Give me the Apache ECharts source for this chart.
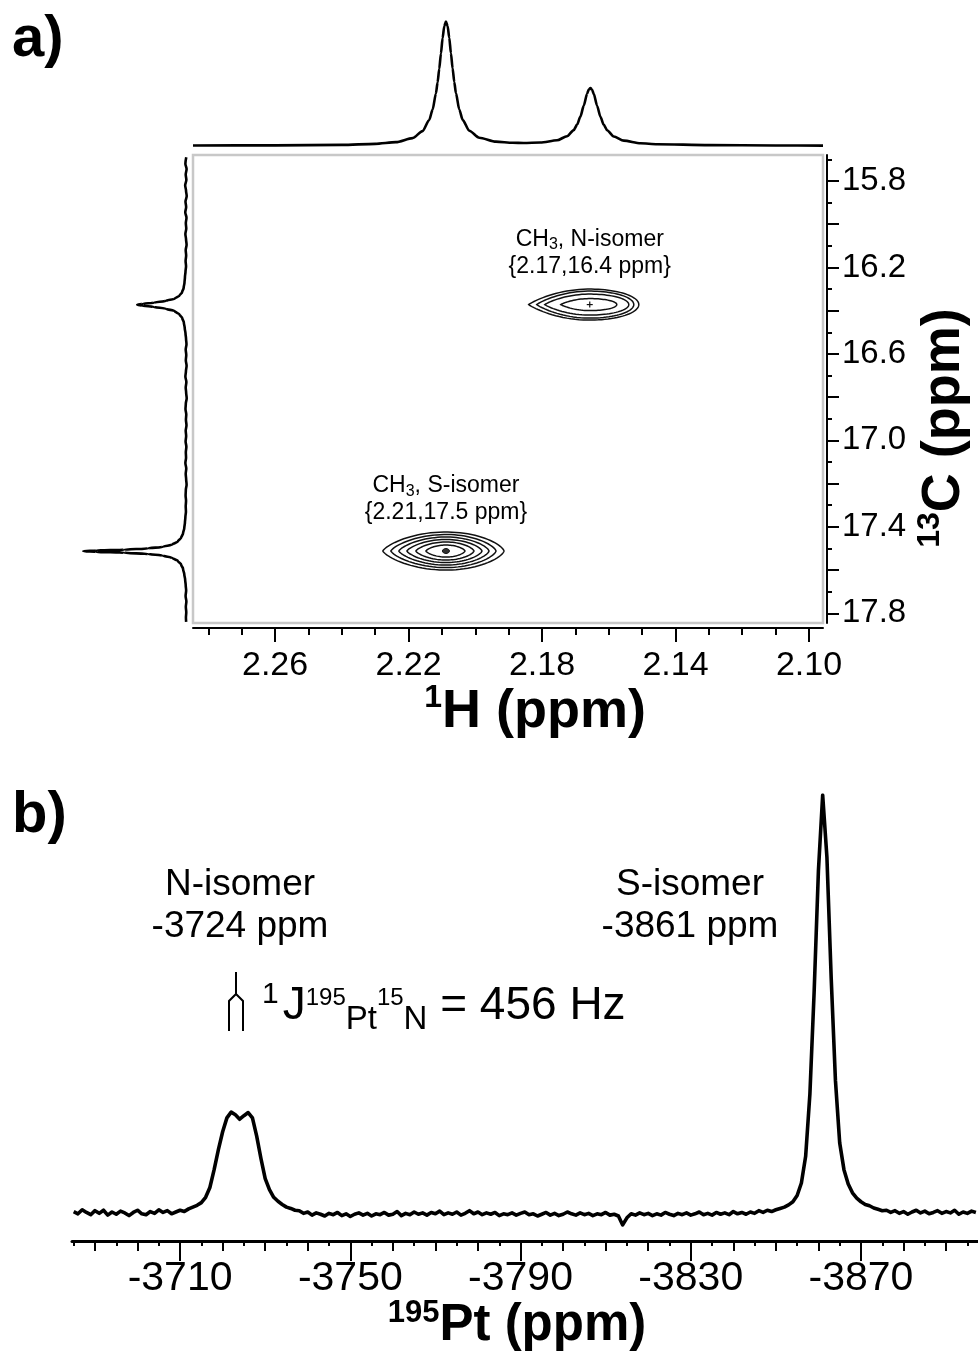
<!DOCTYPE html>
<html>
<head>
<meta charset="utf-8">
<script src="https://cdn.jsdelivr.net/npm/echarts@6/dist/echarts.min.js"></script>
<style>
  html, body { margin: 0; padding: 0; background: #fff; }
  #chart { width: 978px; height: 1357px; }
</style>
</head>
<body>
<div id="chart"></div>
<script>
// ---- panel a: 1H / 13C axes (ppm) ----
const hRange = [2.0958, 2.2846];
const hLabels = [2.26, 2.22, 2.18, 2.14, 2.10];
const hMinor = [2.28, 2.27, 2.26, 2.25, 2.24, 2.23, 2.22, 2.21, 2.20, 2.19, 2.18, 2.17, 2.16, 2.15, 2.14, 2.13, 2.12, 2.11, 2.10];
const cRange = [15.68, 17.845];
const cLabels = [15.8, 16.2, 16.6, 17.0, 17.4, 17.8];
const cMajor = [15.8, 16.0, 16.2, 16.4, 16.6, 16.8, 17.0, 17.2, 17.4, 17.6, 17.8];
const cMinor = [15.7, 15.9, 16.1, 16.3, 16.5, 16.7, 16.9, 17.1, 17.3, 17.5, 17.7];

// cross peaks: centre [1H, 13C]
const peakCentres = [[2.2088, 17.512], [2.1657, 16.372]];
const peakNames = ['S-isomer', 'N-isomer'];
const peakTags = ['{2.21,17.5 ppm}', '{2.17,16.4 ppm}'];
// contour levels per peak: [extent to high 1H ppm, extent to low 1H ppm, 13C half-height] (ppm)
const sContours = [[0.0189, 0.0174, 0.088], [0.0165, 0.0150, 0.0764], [0.0141, 0.0129, 0.0648],
                   [0.0117, 0.0108, 0.0532], [0.0090, 0.0084, 0.0417], [0.0060, 0.0057, 0.0278]];
const nContours = [[0.0183, 0.0147, 0.0718], [0.0159, 0.0132, 0.0625], [0.0135, 0.0117, 0.0486],
                   [0.0087, 0.0081, 0.0278]];

// 1H projection (top): [ppm, intensity]
const hSpectrum = [
  [2.2846, 1.15], [2.26, 1.3], [2.24, 1.7], [2.23, 2.5], [2.2238, 3.8], [2.2188, 7.0], [2.2158, 12.5],
  [2.2138, 21.3], [2.2128, 29.4], [2.2118, 42.1], [2.2113, 50.9], [2.2108, 61.6], [2.2103, 73.6],
  [2.2098, 85.7], [2.2093, 95.1], [2.2088, 98.7], [2.2083, 95.3], [2.2078, 85.9], [2.2073, 73.8],
  [2.2068, 61.9], [2.2063, 51.2], [2.2058, 42.4], [2.2048, 29.5], [2.2038, 21.4], [2.2018, 12.8],
  [2.1988, 7.3], [2.1938, 4.2], [2.1888, 3.3], [2.1855, 3.2], [2.1805, 3.5], [2.1755, 5.3],
  [2.1725, 8.5], [2.1705, 13.3], [2.1695, 17.6], [2.1685, 23.9], [2.1675, 32.6], [2.1665, 41.9],
  [2.166, 45.2], [2.1655, 46.4], [2.165, 45.1], [2.1645, 41.8], [2.1635, 32.5], [2.1625, 23.8],
  [2.1615, 17.5], [2.1605, 13.2], [2.1585, 8.3], [2.1555, 5.0], [2.1505, 2.9], [2.1455, 2.2],
  [2.13, 1.5], [2.11, 1.2], [2.0958, 1.1]
];

// 13C projection (left): [ppm, intensity]
const cSpectrum = [
  [15.69, 3.4], [15.72, 4.2], [15.745, 3.1], [15.77, 3.9], [15.795, 3.3], [15.82, 4.4], [15.845, 3.6],
  [15.87, 3.0], [15.895, 4.1], [15.92, 3.5], [15.945, 4.3], [15.97, 3.2], [15.995, 3.8], [16.02, 3.4],
  [16.045, 4.2], [16.07, 3.6], [16.095, 3.1], [16.12, 3.9], [16.145, 3.5], [16.17, 4.0], [16.195, 3.6],
  [16.22, 4.1], [16.245, 4.6], [16.27, 5.0], [16.295, 5.8], [16.315, 7.2], [16.33, 9.5], [16.345, 14],
  [16.355, 22], [16.363, 33], [16.369, 43], [16.373, 48], [16.377, 43], [16.383, 33], [16.391, 22],
  [16.402, 14], [16.418, 9.5], [16.435, 7], [16.455, 5.6], [16.48, 4.8], [16.505, 4.1], [16.53, 3.6],
  [16.555, 3.2], [16.58, 3.9], [16.605, 3.4], [16.63, 3.8], [16.655, 3.1], [16.68, 3.7], [16.705, 4.2],
  [16.73, 3.3], [16.755, 3.9], [16.78, 3.5], [16.805, 3.0], [16.83, 3.8], [16.855, 4.1], [16.88, 3.4],
  [16.905, 3.7], [16.93, 3.2], [16.955, 3.9], [16.98, 3.5], [17.005, 4.0], [17.03, 3.3], [17.055, 3.8],
  [17.08, 3.6], [17.105, 4.2], [17.13, 3.4], [17.155, 3.9], [17.18, 3.5], [17.205, 3.1], [17.23, 3.8],
  [17.255, 4.0], [17.28, 3.6], [17.305, 3.9], [17.33, 3.7], [17.355, 4.2], [17.38, 4.6], [17.405, 5.2],
  [17.43, 6.3], [17.45, 8], [17.468, 11], [17.482, 16], [17.493, 25], [17.5, 38], [17.506, 60],
  [17.51, 85], [17.513, 97], [17.516, 85], [17.52, 60], [17.526, 38], [17.533, 25], [17.544, 16],
  [17.558, 11], [17.575, 8], [17.595, 6.3], [17.62, 5.2], [17.645, 4.4], [17.67, 3.9], [17.695, 3.5],
  [17.72, 4.0], [17.745, 3.3], [17.77, 3.8], [17.795, 3.4], [17.82, 3.7], [17.84, 3.5]
];

// ---- panel b: 195Pt spectrum, sampled every 1 ppm from -3685 ppm downward ----
const ptRange = [-3897.5, -3684.6];
const ptStart = -3685;
const ptValues = [
  6.6, 6.1, 7.0, 6.4, 5.9, 6.8, 6.2, 6.9, 5.8, 6.5, 6.0, 6.7, 6.3, 5.7, 6.4, 6.9, 6.1, 5.9, 6.6, 6.2,
  7.0, 6.4, 6.8, 6.1, 6.5, 6.9, 6.6, 7.2, 7.6,
  8.0, 8.6, 9.8, 12, 16, 20.5, 24.5, 27.6, 28.9, 28.3, 27.3, 28.1, 28.8, 27.6, 23.5, 18.5, 14, 11.5,
  9.8, 8.9, 8.2, 7.6, 7.3, 6.9,
  6.8, 6.2, 6.5, 5.8, 6.3, 6.0, 5.6, 6.2, 5.9, 6.4,
  5.7, 6.1, 5.5, 6.0, 6.3, 5.8, 6.2, 5.6, 6.1, 5.9,
  6.4, 5.8, 6.0, 6.6, 5.7, 6.2, 5.9, 6.5, 6.0, 6.3,
  5.8, 6.4, 6.1, 6.7, 5.9, 6.3, 6.0, 6.5, 5.8, 6.2,
  6.8, 6.1, 6.5, 5.9, 6.3, 6.0, 6.4, 5.7, 6.1, 5.9,
  6.3, 5.8, 6.2, 6.5, 5.9, 6.1, 5.6, 6.0, 6.4, 5.8,
  6.2, 5.7, 6.0, 6.5, 6.1, 5.8, 6.3, 5.9, 6.2, 5.7,
  6.1, 5.9, 6.4, 5.8, 6.0, 5.6, 3.6, 5.2, 6.1, 5.8,
  6.3, 5.9, 6.2, 5.7, 6.1, 5.8, 6.4, 6.0, 5.7, 6.2,
  5.9, 6.3, 5.8, 6.1, 6.5, 5.9, 6.2, 5.8, 6.4, 6.0,
  6.3, 5.9, 6.6, 6.1, 6.4, 6.0, 6.5, 6.2, 6.8, 6.4,
  6.9, 6.6,
  7.0, 7.3, 7.6, 8.1, 8.8, 10.2, 13, 19, 33, 56, 83, 100, 86, 59, 36, 22, 16, 12.8, 10.8, 9.6,
  8.8, 8.2, 7.9, 7.4, 7.1, 6.8,
  6.9, 6.4, 6.8, 6.2, 6.6, 6.0, 6.5, 6.9, 6.3, 6.7, 6.1, 6.4, 6.8, 6.2, 6.6, 6.3, 6.9, 6.0, 6.5, 6.2,
  6.7, 6.4
];
const ptLabels = [-3710, -3750, -3790, -3830, -3870];
const ptMedium = [-3690, -3700, -3710, -3720, -3730, -3740, -3750, -3760, -3770, -3780, -3790,
  -3800, -3810, -3820, -3830, -3840, -3850, -3860, -3870, -3880, -3890];
const ptMinor = [-3685, -3695, -3705, -3715, -3725, -3735, -3745, -3755, -3765, -3775, -3785,
  -3795, -3805, -3815, -3825, -3835, -3845, -3855, -3865, -3875, -3885, -3895];

const FONT = "'Liberation Sans', Arial, Helvetica, sans-serif";

const chart = echarts.init(document.getElementById('chart'));

// helper for the stacked tick axes
function tickAxis(extra) {
  return Object.assign({
    type: 'value',
    splitLine: { show: false },
    axisLine: { show: false },
    axisLabel: { show: false },
    axisTick: { show: true, lineStyle: { color: '#000', width: 2 } }
  }, extra);
}

// closed contour around a centre; pL / pR > 1 make the left / right end pointed
function contourShape(api, c, lv, pL, pR) {
  const pts = [];
  for (let k = 0; k <= 90; k++) {
    const t = (k / 90) * Math.PI * 2;
    const co = Math.cos(t), si = Math.sin(t);
    const p = co < 0 ? pL : pR;
    const w = co < 0 ? lv[0] : lv[1];
    const dx = co * w;
    const dy = Math.sign(si) * Math.pow(Math.abs(si), p) * lv[2];
    pts.push(api.coord([c[0] - dx, c[1] + dy]));
  }
  return pts;
}

function supTitle(sup, main, size) {
  return {
    text: '{sup|' + sup + '}{m|' + main + '}',
    align: 'center', verticalAlign: 'middle', textAlign: 'center', textVerticalAlign: 'middle',
    rich: {
      sup: { fontSize: Math.round(size * 0.6), fontWeight: 'bold', fontFamily: FONT, fill: '#000',
        lineHeight: size + 6, verticalAlign: 'top' },
      m: { fontSize: size, fontWeight: 'bold', fontFamily: FONT, fill: '#000', lineHeight: size + 6 }
    }
  };
}

const option = {
  animation: false,
  backgroundColor: '#fff',
  textStyle: { fontFamily: FONT, color: '#000' },
  grid: [
    // 2D map
    { left: 193, top: 155, width: 630, height: 468, show: true, borderColor: '#c8c8c8', borderWidth: 2.5,
      backgroundColor: 'transparent', containLabel: false, outerBoundsMode: 'none' },
    // 1H projection
    { left: 193, top: 20, width: 630, height: 127, containLabel: false, outerBoundsMode: 'none' },
    // 13C projection
    { left: 80, top: 155, width: 110, height: 468, containLabel: false, outerBoundsMode: 'none' },
    // 195Pt
    { left: 72, top: 795, right: 0, height: 446, containLabel: false, outerBoundsMode: 'none' }
  ],
  xAxis: [
    { // 0: 1H main
      type: 'value', gridIndex: 0, inverse: true, min: hRange[0], max: hRange[1], position: 'bottom', offset: 5,
      splitLine: { show: false },
      axisLine: { show: true, lineStyle: { color: '#000', width: 2 } },
      axisTick: { show: true, length: 14, customValues: hLabels, lineStyle: { color: '#000', width: 2 } },
      axisLabel: { show: true, customValues: hLabels, formatter: v => v.toFixed(2), fontSize: 34,
        margin: 21, color: '#000', fontFamily: FONT }
    },
    tickAxis({ gridIndex: 0, inverse: true, min: hRange[0], max: hRange[1], position: 'bottom', offset: 5,
      axisTick: { show: true, length: 7, customValues: hMinor, lineStyle: { color: '#000', width: 2 } } }),
    { // 2: top projection
      type: 'value', gridIndex: 1, inverse: true, min: hRange[0], max: hRange[1], show: false
    },
    { // 3: 13C projection intensity
      type: 'value', gridIndex: 2, inverse: true, min: 0, max: 100, show: false
    },
    { // 4: 195Pt main
      type: 'value', gridIndex: 3, inverse: true, min: ptRange[0], max: ptRange[1], position: 'bottom',
      splitLine: { show: false },
      axisLine: { show: true, lineStyle: { color: '#000', width: 3 } },
      axisTick: { show: true, length: 20, customValues: ptLabels, lineStyle: { color: '#000', width: 2 } },
      axisLabel: { show: true, customValues: ptLabels, formatter: v => String(v), fontSize: 41,
        margin: 17, color: '#000', fontFamily: FONT }
    },
    tickAxis({ gridIndex: 3, inverse: true, min: ptRange[0], max: ptRange[1], position: 'bottom',
      axisTick: { show: true, length: 10, customValues: ptMedium, lineStyle: { color: '#000', width: 2 } } }),
    tickAxis({ gridIndex: 3, inverse: true, min: ptRange[0], max: ptRange[1], position: 'bottom',
      axisTick: { show: true, length: 5, customValues: ptMinor, lineStyle: { color: '#000', width: 2 } } })
  ],
  yAxis: [
    { // 0: 13C main (right)
      type: 'value', gridIndex: 0, inverse: true, min: cRange[0], max: cRange[1], position: 'right', offset: 4,
      splitLine: { show: false },
      axisLine: { show: true, lineStyle: { color: '#000', width: 2 } },
      axisTick: { show: true, length: 12, customValues: cMajor, lineStyle: { color: '#000', width: 2 } },
      axisLabel: { show: true, customValues: cLabels, formatter: v => v.toFixed(1), fontSize: 33,
        margin: 15, color: '#000', fontFamily: FONT }
    },
    tickAxis({ gridIndex: 0, inverse: true, min: cRange[0], max: cRange[1], position: 'right', offset: 4,
      axisTick: { show: true, length: 5, customValues: cMinor, lineStyle: { color: '#000', width: 2 } } }),
    { type: 'value', gridIndex: 1, min: 0, max: 100, show: false },
    { type: 'value', gridIndex: 2, inverse: true, min: cRange[0], max: cRange[1], show: false },
    { type: 'value', gridIndex: 3, min: 0, max: 100, show: false }
  ],
  series: [
    {
      type: 'custom', name: 'contours', xAxisIndex: 0, yAxisIndex: 0, clip: true,
      data: peakCentres.map((c, i) => [c[0], c[1], i]),
      renderItem: function (params, api) {
        const i = api.value(2);
        const c = peakCentres[i];
        const levels = i === 0 ? sContours : nContours;
        const pL = i === 0 ? 1.5 : 1.8;
        const pR = i === 0 ? 1.35 : 1.0;
        const children = levels.map(lv => ({
          type: 'polygon',
          shape: { points: contourShape(api, c, lv, pL, pR) },
          style: { fill: 'none', stroke: '#111', lineWidth: 1.5 }
        }));
        const p = api.coord(c);
        if (i === 0) {
          children.push({ type: 'ellipse', shape: { cx: p[0], cy: p[1], rx: 3.5, ry: 2.5 },
            style: { fill: '#333', stroke: '#111', lineWidth: 1 } });
        } else {
          children.push({ type: 'line', shape: { x1: p[0] - 3, y1: p[1], x2: p[0] + 3, y2: p[1] },
            style: { stroke: '#111', lineWidth: 1.2 } });
          children.push({ type: 'line', shape: { x1: p[0], y1: p[1] - 3, x2: p[0], y2: p[1] + 3 },
            style: { stroke: '#111', lineWidth: 1.2 } });
        }
        return { type: 'group', children: children };
      }
    },
    {
      type: 'scatter', name: 'peak labels', xAxisIndex: 0, yAxisIndex: 0,
      data: peakCentres.map((c, i) => ({ value: c, name: i })),
      symbolSize: 1, itemStyle: { color: 'transparent', opacity: 1 },
      emphasis: { disabled: true },
      label: {
        show: true, position: 'top', distance: 24, align: 'center',
        fontSize: 23, lineHeight: 27, color: '#000', fontFamily: FONT, textBorderWidth: 0,
        formatter: p => '{t|CH}{s|3}{t|, ' + peakNames[p.dataIndex] + '}\n' + peakTags[p.dataIndex],
        rich: {
          t: { fontSize: 23, lineHeight: 27, color: '#000', fontFamily: FONT },
          s: { fontSize: 16, lineHeight: 27, color: '#000', fontFamily: FONT, verticalAlign: 'bottom' }
        }
      }
    },
    {
      type: 'line', name: '1H', xAxisIndex: 2, yAxisIndex: 2, data: hSpectrum,
      showSymbol: false, smooth: 0.25, smoothMonotone: 'x',
      lineStyle: { color: '#000', width: 2.6 }
    },
    {
      type: 'line', name: '13C', xAxisIndex: 3, yAxisIndex: 3,
      data: cSpectrum.map(d => [d[1], d[0]]),
      showSymbol: false, smooth: 0.3, smoothMonotone: 'y',
      lineStyle: { color: '#000', width: 2.6 }
    },
    {
      type: 'line', name: '195Pt', xAxisIndex: 4, yAxisIndex: 4,
      data: ptValues.map((v, i) => [ptStart - i, v]),
      showSymbol: false, smooth: false,
      lineStyle: { color: '#000', width: 3.6, join: 'round' }
    }
  ],
  graphic: [
    { type: 'text', left: 12, top: 11, style: { text: 'a)', fontSize: 58, fontWeight: 'bold', fontFamily: FONT, fill: '#000' } },
    { type: 'text', left: 12, top: 787, style: { text: 'b)', fontSize: 58, fontWeight: 'bold', fontFamily: FONT, fill: '#000' } },
    { type: 'text', x: 535, y: 712, style: supTitle('1', 'H (ppm)', 54) },
    { type: 'text', x: 944, y: 428, rotation: Math.PI / 2, style: supTitle('13', 'C (ppm)', 54) },
    { type: 'text', x: 517, y: 1326, style: supTitle('195', 'Pt (ppm)', 51) },
    { type: 'text', x: 240, y: 906, style: {
        text: 'N-isomer\n-3724 ppm', align: 'center', verticalAlign: 'middle', textAlign: 'center', textVerticalAlign: 'middle',
        fontSize: 37, lineHeight: 42, fontFamily: FONT, fill: '#000' } },
    { type: 'text', x: 690, y: 906, style: {
        text: 'S-isomer\n-3861 ppm', align: 'center', verticalAlign: 'middle', textAlign: 'center', textVerticalAlign: 'middle',
        fontSize: 37, lineHeight: 42, fontFamily: FONT, fill: '#000' } },
    { type: 'polyline', shape: { points: [[236, 972], [236, 994], [229, 1001], [229, 1031]] },
      style: { stroke: '#000', lineWidth: 2, fill: null } },
    { type: 'polyline', shape: { points: [[236, 994], [243, 1001], [243, 1031]] },
      style: { stroke: '#000', lineWidth: 2, fill: null } },
    { type: 'text', x: 262, y: 1006, style: {
        text: '{sup|1}{m|J}{ss|195}{sb|Pt}{ss|15}{sb|N}{m| = 456 Hz}',
        align: 'left', verticalAlign: 'middle', textAlign: 'left', textVerticalAlign: 'middle',
        rich: {
          sup: { fontSize: 30, fontFamily: FONT, fill: '#000', lineHeight: 60, verticalAlign: 'top', padding: [4, 4, 0, 0] },
          m: { fontSize: 46, fontFamily: FONT, fill: '#000', lineHeight: 60 },
          ss: { fontSize: 24, fontFamily: FONT, fill: '#000', lineHeight: 60, verticalAlign: 'top', padding: [10, 0, 0, 0] },
          sb: { fontSize: 33, fontFamily: FONT, fill: '#000', lineHeight: 60, verticalAlign: 'bottom' }
        } } }
  ]
};

chart.setOption(option);
</script>
</body>
</html>
